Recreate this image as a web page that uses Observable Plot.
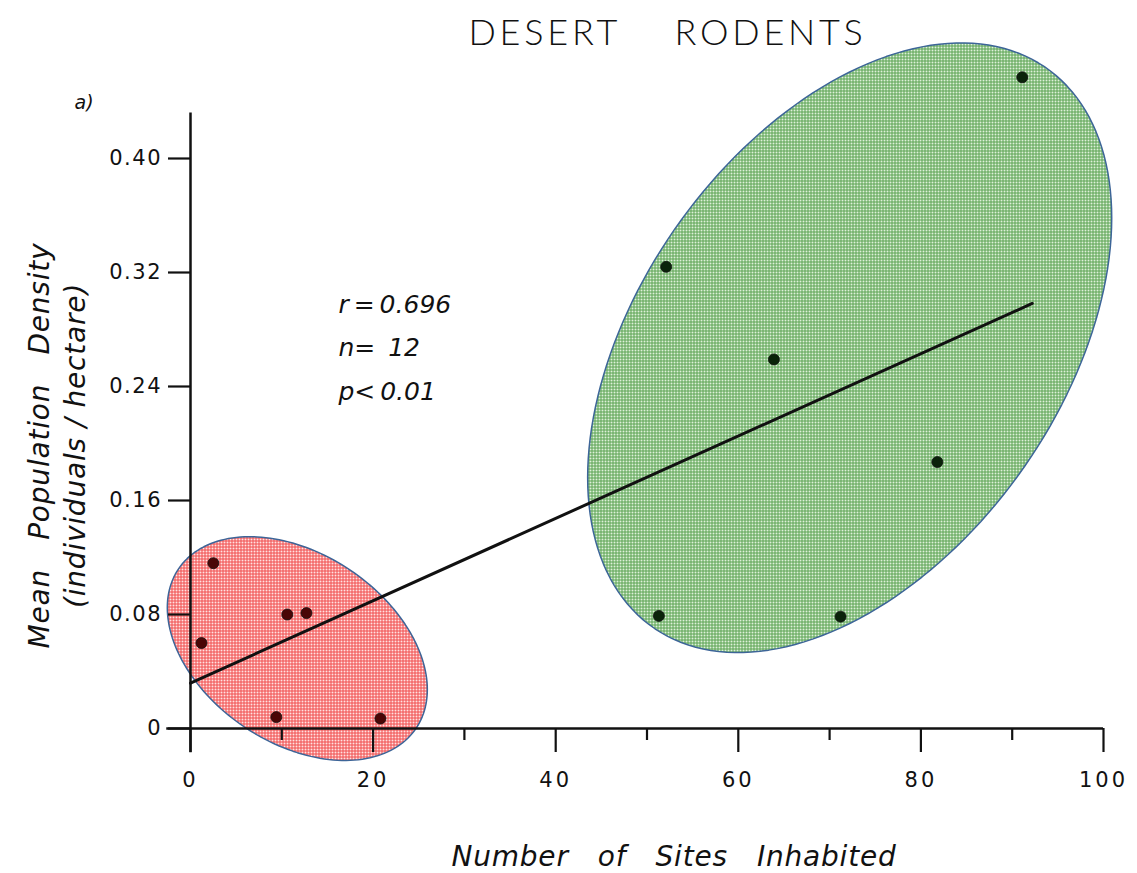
<!DOCTYPE html>
<html>
<head>
<meta charset="utf-8">
<script src="https://cdn.jsdelivr.net/npm/d3@7"></script>
<script src="https://cdn.jsdelivr.net/npm/@observablehq/plot@0.6"></script>
<style>
  body { margin: 0; background: #fff; }
</style>
</head>
<body>
<div id="chart"></div>
<script>
// Desert rodent species: number of sites inhabited vs. mean population density.
// Species found at few sites
const sitesFew = [1.2, 2.5, 9.4, 10.6, 12.7, 20.8];
const densityFew = [0.060, 0.116, 0.008, 0.080, 0.081, 0.007];
// Species found at many sites
const sitesMany = [51.3, 52.1, 63.9, 71.2, 81.8, 91.1];
const densityMany = [0.079, 0.324, 0.259, 0.0785, 0.187, 0.457];

// Group envelopes: centre, half-width (sites), half-height (density), x–y correlation
const envGroup = ["few", "many"];
const envCentreX = [11.7, 72.2];
const envCentreY = [0.0561, 0.2672];
const envHalfWidth = [14.24, 28.7];
const envHalfHeight = [0.0785, 0.2139];
const envRho = [-0.366, 0.426];

// Axis ticks
const xMajorTicks = [0, 20, 40, 60, 80, 100];
const xMinorTicks = [10, 30, 50, 70, 90];
const yTicks = [0, 0.08, 0.16, 0.24, 0.32, 0.40];
const fitExtent = [0, 92.2];

const titleText = "DESERT    RODENTS";
const xTitle = "Number   of   Sites   Inhabited";
const yTitle = "Mean   Population   Density\n(individuals / hectare)";
const statsText = "r\u2009=\u20090.696\nn=\u2009 12\np<\u20090.01";

// Point table
const points = [
  ...sitesFew.map((s, i) => ({sites: s, density: densityFew[i], group: "few"})),
  ...sitesMany.map((s, i) => ({sites: s, density: densityMany[i], group: "many"}))
];

// Least-squares fit over all species
const mx = d3.mean(points, d => d.sites);
const my = d3.mean(points, d => d.density);
const slope = d3.sum(points, d => (d.sites - mx) * (d.density - my)) /
              d3.sum(points, d => (d.sites - mx) ** 2);
const intercept = my - slope * mx;
const fitLine = fitExtent.map(x => ({sites: x, density: intercept + slope * x}));

// Outline polygon for each envelope
function envelope(k) {
  const n = 180, pts = [];
  const r = envRho[k], s = Math.sqrt(1 - r * r);
  for (let i = 0; i < n; i++) {
    const t = (2 * Math.PI * i) / n;
    pts.push({
      sites: envCentreX[k] + envHalfWidth[k] * Math.cos(t),
      density: envCentreY[k] + envHalfHeight[k] * (r * Math.cos(t) + s * Math.sin(t))
    });
  }
  return pts;
}

// Cross-hatched fills
function hatchDefs() {
  const defs = d3.create("svg:defs");
  const make = (id, bg, line) => {
    const p = defs.append("pattern").attr("id", id)
      .attr("width", 3).attr("height", 3).attr("patternUnits", "userSpaceOnUse");
    p.append("rect").attr("width", 3).attr("height", 3).attr("fill", bg);
    p.append("rect").attr("width", 3).attr("height", 1).attr("fill", line);
    p.append("rect").attr("width", 1).attr("height", 3).attr("fill", line);
  };
  make("hatch-few", "#ffe2e2", "#f04c4c");
  make("hatch-many", "#def0da", "#5aa352");
  return defs.node();
}

const axisFont = {fontSize: 21, fontFamily: "DejaVu Sans"};

const chart = Plot.plot({
  width: 1137,
  height: 873,
  marginLeft: 190,
  marginRight: 34,
  marginTop: 158,
  marginBottom: 145,
  x: {domain: [0, 100]},
  y: {domain: [0, 0.4]},
  style: {fontFamily: "DejaVu Sans", background: "#fff", overflow: "visible", color: "#111"},
  marks: [
    hatchDefs,
    Plot.line(envelope(0), {x: "sites", y: "density", curve: "linear-closed",
      fill: "url(#hatch-few)", stroke: "#3d6598", strokeWidth: 1.5}),
    Plot.line(envelope(1), {x: "sites", y: "density", curve: "linear-closed",
      fill: "url(#hatch-many)", stroke: "#3d6598", strokeWidth: 1.5}),

    // axis lines
    Plot.ruleY([0], {x1: -2.6, x2: 100, stroke: "#111", strokeWidth: 2.5}),
    Plot.ruleX([0], {y1: -0.017, y2: 0.432, stroke: "#111", strokeWidth: 2.5}),

    Plot.axisX({ticks: xMajorTicks, tickSize: 24, tickPadding: 20, strokeWidth: 2.2,
      label: null, ...axisFont}),
    Plot.axisX({ticks: xMinorTicks, tickSize: 12, strokeWidth: 2.2,
      tickFormat: () => "", label: null}),
    Plot.axisY({ticks: yTicks, tickSize: 22, tickPadding: 6.5, strokeWidth: 2.2,
      tickFormat: d => d === 0 ? "0" : d.toFixed(2), label: null, ...axisFont}),

    // regression line
    Plot.line(fitLine, {x: "sites", y: "density", stroke: "#111", strokeWidth: 3}),

    // species
    Plot.dot(points, {x: "sites", y: "density", r: 5.5,
      fill: d => d.group === "few" ? "#4a0606" : "#0a230a", stroke: "#111", strokeWidth: 0.8}),

    // statistics
    Plot.text([statsText], {x: 16.2, y: 0.271, text: d => d, textAnchor: "start",
      lineAnchor: "middle", lineHeight: 1.75, fontSize: 25, fontStyle: "italic", fill: "#111"}),

    // panel tag
    Plot.text(["a)"], {frameAnchor: "top-left", dx: -116, dy: -56, textAnchor: "start",
      lineAnchor: "middle", fontSize: 19, fontStyle: "italic", fill: "#111"}),

    // title
    Plot.text([titleText], {frameAnchor: "top", dx: 20.5, dy: -125,
      lineAnchor: "middle", fontSize: 36, fontWeight: 300, fontFamily: "Lato", fill: "#111"}),

    // axis titles
    Plot.text([xTitle], {frameAnchor: "bottom", dx: 27, dy: 129,
      textAnchor: "middle", lineAnchor: "middle", fontSize: 28, fontStyle: "italic", fill: "#111"}),
    Plot.text([yTitle], {frameAnchor: "left",
      dx: -135, dy: 2, rotate: -90, textAnchor: "middle", lineAnchor: "middle", lineHeight: 1.3,
      fontSize: 28, fontStyle: "italic", fill: "#111"})
  ]
});

// Hand-lettered spacing of the labels
const svg = d3.select(chart);
const spaceText = (prefix, ls) => svg.selectAll("text")
  .filter(function () { return this.textContent.startsWith(prefix); })
  .attr("letter-spacing", ls);
spaceText("DESERT", 3.8);
spaceText("Number", 0.8);
spaceText("Mean", 0.8);
svg.selectAll('g[aria-label="x-axis tick label"]').attr("letter-spacing", 3);
svg.selectAll('g[aria-label="y-axis tick label"]').attr("letter-spacing", 1.5);

document.getElementById("chart").append(chart);
</script>
</body>
</html>
